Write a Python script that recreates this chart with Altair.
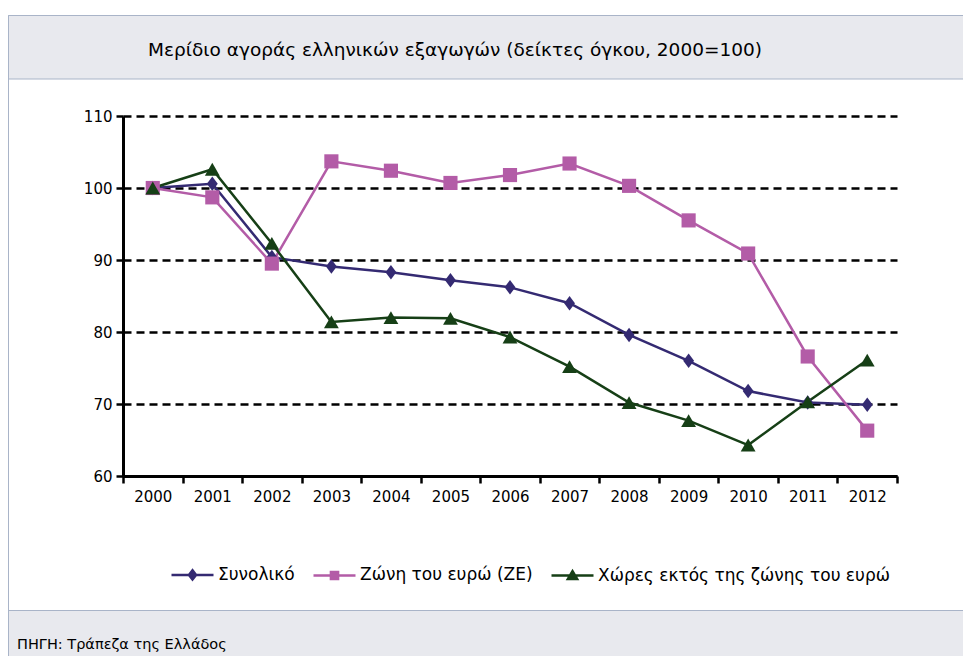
import altair as alt
import pandas as pd

years = [str(y) for y in range(2000, 2013)]
series_names = ["Συνολικό", "Ζώνη του ευρώ (ΖΕ)", "Χώρες εκτός της ζώνης του ευρώ"]
total = [100.0, 100.6, 90.4, 89.1, 88.3, 87.2, 86.2, 84.0, 79.6, 76.0, 71.8, 70.2, 69.9]
euro = [100.0, 98.7, 89.5, 103.7, 102.4, 100.7, 101.8, 103.4, 100.3, 95.5, 90.9, 76.6, 66.3]
non_euro = [100.0, 102.6, 92.3, 81.4, 82.0, 81.9, 79.3, 75.2, 70.2, 67.7, 64.3, 70.3, 76.1]
colors = ["#342a72", "#b35ca7", "#163f16"]
y_ticks = [60, 70, 80, 90, 100, 110]

title_text = "Μερίδιο αγοράς ελληνικών εξαγωγών (δείκτες όγκου, 2000=100)"
source_text = "ΠΗΓΗ: Τράπεζα της Ελλάδος"

rows = []
for name, vals in zip(series_names, [total, euro, non_euro]):
    for y, v in zip(years, vals):
        rows.append({"year": y, "series": name, "value": v})
df = pd.DataFrame(rows)
one = pd.DataFrame({"k": [0]})

FONT = "DejaVu Sans"
W, H = 774, 360
BORDER = "#a9b4c8"
BAND = "#e8e9ee"

marker_paths = [
    "M0,-1L0.75,0L0,1L-0.75,0Z",
    "square",
    "triangle-up",
]
marker_sizes = [210, 200, 220]
legend_paths = [
    "M-1,0L1,0M0,-0.22L0.17,0L0,0.22L-0.17,0Z",
    "M-1,0L1,0M-0.17,-0.17L0.17,-0.17L0.17,0.17L-0.17,0.17Z",
    "M-1,0L1,0M0,-0.21L0.22,0.16L-0.22,0.16Z",
]

x_enc = alt.X(
    "year:O",
    scale=alt.Scale(type="band", paddingInner=0, paddingOuter=0),
    axis=alt.Axis(
        title=None, labelAngle=0, tickBand="extent", grid=False,
        domainColor="black", domainWidth=3, tickColor="black", tickWidth=2.5,
        tickSize=7, labelFont=FONT, labelFontSize=15, labelColor="black",
        labelPadding=6,
    ),
)
y_enc = alt.Y(
    "value:Q",
    scale=alt.Scale(domain=[60, 110], nice=False, zero=False),
    axis=alt.Axis(
        title=None, values=y_ticks, grid=True, gridColor="black", gridWidth=2.5,
        gridDash=[8, 5], domainColor="black", domainWidth=3, tickColor="black",
        tickWidth=2.5, tickSize=7, labelFont=FONT, labelFontSize=15,
        labelColor="black", labelPadding=4,
    ),
)
color_enc = alt.Color("series:N", scale=alt.Scale(domain=series_names, range=colors), legend=None)

header = alt.Chart(one).mark_rect(fill=BAND, stroke=BORDER, strokeWidth=1).encode(
    x=alt.value(-114.5), x2=alt.value(860), y=alt.value(-100.5), y2=alt.value(-37)
)
footer = alt.Chart(one).mark_rect(fill=BAND, stroke=BORDER, strokeWidth=1).encode(
    x=alt.value(-114.5), x2=alt.value(860), y=alt.value(494.5), y2=alt.value(560)
)
frame = alt.Chart(one).mark_rect(filled=False, stroke=BORDER, strokeWidth=1).encode(
    x=alt.value(-114.5), x2=alt.value(860), y=alt.value(-100.5), y2=alt.value(560)
)
title = alt.Chart(one).mark_text(
    text=title_text, align="left", baseline="middle", font=FONT, fontSize=18.5, color="black"
).encode(x=alt.value(25), y=alt.value(-66))
source = alt.Chart(one).mark_text(
    text=source_text, align="left", baseline="middle", font=FONT, fontSize=14.5, color="black"
).encode(x=alt.value(-106), y=alt.value(529))

lines = alt.Chart(df).mark_line(strokeWidth=2.5).encode(
    x=x_enc, y=y_enc, color=color_enc, detail="series:N"
)

point_layers = []
for name, shp, sz, col in zip(series_names, marker_paths, marker_sizes, colors):
    point_layers.append(
        alt.Chart(df).transform_filter(alt.datum.series == name).mark_point(
            filled=True, opacity=1, shape=shp, size=sz, color=col
        ).encode(x=x_enc, y=y_enc)
    )

leg = dict(
    title=None, orient="none", legendX=47, legendY=436, direction="horizontal",
    labelFont=FONT, labelFontSize=17, labelColor="black", labelOffset=3, labelLimit=600,
    columnPadding=13, symbolSize=1764, symbolStrokeWidth=2.5, symbolOpacity=1, padding=0,
)
# legend-only layer: its marks are placed off the canvas, only the legend shows
legend_layer = alt.Chart(df).mark_point(filled=True, size=1764, opacity=1).encode(
    x=alt.value(-2000), y=alt.value(-2000),
    fill=alt.Fill("series:N", scale=alt.Scale(domain=series_names, range=colors), legend=alt.Legend(**leg)),
    stroke=alt.Stroke("series:N", scale=alt.Scale(domain=series_names, range=colors), legend=alt.Legend(**leg)),
    shape=alt.Shape("series:N", scale=alt.Scale(domain=series_names, range=legend_paths), legend=alt.Legend(**leg)),
)

chart = alt.layer(
    header, footer, frame, title, source, lines, *point_layers, legend_layer
).resolve_scale(
    fill="independent", stroke="independent", shape="independent"
).resolve_legend(
    fill="independent", stroke="independent", shape="independent"
).properties(
    width=W, height=H,
    autosize=alt.AutoSizeParams(type="none"),
    padding={"left": 115, "top": 108, "right": 66, "bottom": 180},
).configure_view(stroke=None)

chart.save("out.html", embed_options={"renderer": "svg", "actions": False})
